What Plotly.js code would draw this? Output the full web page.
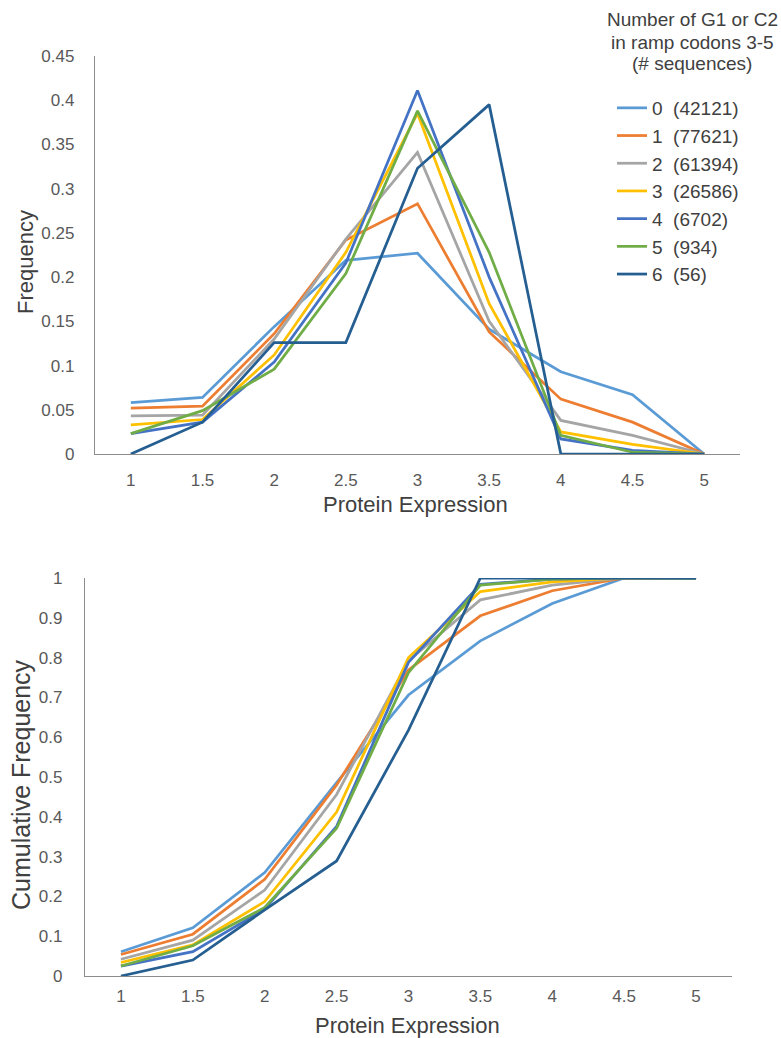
<!DOCTYPE html>
<html>
<head>
<meta charset="utf-8">
<script src="https://cdn.plot.ly/plotly-3.0.1.min.js"></script>
<style>html,body{margin:0;padding:0;background:#fff;}#chart{width:781px;height:1038px;}</style>
</head>
<body>
<div id="chart"></div>
<script>
// Protein expression bins (x values) and tick labels
var expression = [1, 1.5, 2, 2.5, 3, 3.5, 4, 4.5, 5];
var xTickLabels = ['1', '1.5', '2', '2.5', '3', '3.5', '4', '4.5', '5'];

// Series names (number of G1 or C2 in ramp codons 3-5, # sequences)
var seriesNames = ['0  (42121)', '1  (77621)', '2  (61394)', '3  (26586)', '4  (6702)', '5  (934)', '6  (56)'];
var seriesColors = ['#5B9BD5', '#ED7D31', '#A5A5A5', '#FFC000', '#4472C4', '#70AD47', '#255E91'];

// Top panel: frequency
var freq0 = [0.058, 0.064, 0.144, 0.219, 0.227, 0.141, 0.093, 0.067, 0];
var freq1 = [0.052, 0.054, 0.136, 0.242, 0.283, 0.138, 0.062, 0.036, 0];
var freq2 = [0.043, 0.044, 0.130, 0.243, 0.341, 0.150, 0.038, 0.021, 0];
var freq3 = [0.033, 0.039, 0.112, 0.228, 0.385, 0.170, 0.025, 0.011, 0];
var freq4 = [0.023, 0.036, 0.104, 0.216, 0.411, 0.200, 0.017, 0.004, 0];
var freq5 = [0.023, 0.049, 0.096, 0.204, 0.388, 0.228, 0.021, 0.002, 0];
var freq6 = [0, 0.036, 0.126, 0.126, 0.323, 0.395, 0, 0, 0];

// Bottom panel: cumulative frequency
var cum0 = [0.061, 0.121, 0.260, 0.486, 0.706, 0.842, 0.936, 1, 1];
var cum1 = [0.054, 0.105, 0.243, 0.480, 0.769, 0.905, 0.968, 1, 1];
var cum2 = [0.042, 0.090, 0.216, 0.456, 0.792, 0.945, 0.982, 1, 1];
var cum3 = [0.034, 0.078, 0.187, 0.412, 0.800, 0.966, 0.990, 1, 1];
var cum4 = [0.025, 0.061, 0.168, 0.376, 0.788, 0.984, 0.997, 1, 1];
var cum5 = [0.025, 0.076, 0.172, 0.371, 0.762, 0.982, 0.997, 1, 1];
var cum6 = [0, 0.040, 0.166, 0.289, 0.618, 1, 1, 1, 1];

// Y tick labels
var yTopTickVals = [0, 0.05, 0.1, 0.15, 0.2, 0.25, 0.3, 0.35, 0.4, 0.45];
var yTopTickLabels = ['0', '0.05', '0.1', '0.15', '0.2', '0.25', '0.3', '0.35', '0.4', '0.45'];
var yBotTickVals = [0, 0.1, 0.2, 0.3, 0.4, 0.5, 0.6, 0.7, 0.8, 0.9, 1];
var yBotTickLabels = ['0', '0.1', '0.2', '0.3', '0.4', '0.5', '0.6', '0.7', '0.8', '0.9', '1'];

var legendTitleLines = ['Number of G1 or C2', 'in ramp codons 3-5', '(# sequences)'];
var xTitle = 'Protein Expression';
var yTopTitle = 'Frequency';
var yBotTitle = 'Cumulative Frequency';

var freqSeries = [freq0, freq1, freq2, freq3, freq4, freq5, freq6];
var cumSeries = [cum0, cum1, cum2, cum3, cum4, cum5, cum6];

var FONT = 'Liberation Sans, Arial, sans-serif';
var W = 781, H = 1038;
var traces = [];
freqSeries.forEach(function (ys, i) {
  traces.push({
    type: 'scatter', mode: 'lines', x: expression, y: ys,
    name: seriesNames[i], legendgroup: 'g' + i,
    line: {color: seriesColors[i], width: 2.75},
    xaxis: 'x', yaxis: 'y', showlegend: true
  });
});
cumSeries.forEach(function (ys, i) {
  traces.push({
    type: 'scatter', mode: 'lines', x: expression, y: ys,
    name: seriesNames[i], legendgroup: 'g' + i,
    line: {color: seriesColors[i], width: 2.75},
    xaxis: 'x2', yaxis: 'y2', showlegend: false
  });
});

var axisCommon = {
  showgrid: false, zeroline: false, showline: true,
  linecolor: '#8c8c8c', linewidth: 1.25,
  ticks: '', tickfont: {family: FONT, size: 17, color: '#595959'},
  automargin: false
};

function merge(a, b) { var o = {}; for (var k in a) o[k] = a[k]; for (var k2 in b) o[k2] = b[k2]; return o; }

var titleFont = {family: FONT, size: 22, color: '#404040'};
function ann(text, px, py, angle, font) {
  return {
    text: text, xref: 'paper', yref: 'paper', x: px / W, y: 1 - py / H,
    xanchor: 'center', yanchor: 'middle', showarrow: false, textangle: angle || 0,
    font: font
  };
}

var annotations = legendTitleLines.map(function (t, i) {
  return ann(t, 692, [20, 42, 63][i], 0, {family: FONT, size: 19, color: '#404040'});
});
annotations.push(ann(xTitle, 415, 504, 0, titleFont));
annotations.push(ann(xTitle, 407, 1025, 0, titleFont));
annotations.push(ann(yTopTitle, 25, 262, -90, titleFont));
annotations.push(ann(yBotTitle, 21, 785, -90, {family: FONT, size: 25, color: '#404040'}));

var layout = {
  width: W, height: H,
  margin: {l: 0, r: 0, t: 0, b: 0, autoexpand: false},
  paper_bgcolor: '#fff', plot_bgcolor: '#fff',
  font: {family: FONT, color: '#404040'},
  xaxis: merge(axisCommon, {
    domain: [95 / W, 740 / W], range: [0.75, 5.25], anchor: 'y',
    tickvals: expression, ticktext: xTickLabels, ticklabelstandoff: 10
  }),
  yaxis: merge(axisCommon, {
    domain: [1 - 454 / H, 1 - 56 / H], range: [0, 0.45], anchor: 'x',
    tickvals: yTopTickVals, ticktext: yTopTickLabels, ticklabelstandoff: 16
  }),
  xaxis2: merge(axisCommon, {
    domain: [85 / W, 732 / W], range: [0.75, 5.25], anchor: 'y2',
    tickvals: expression, ticktext: xTickLabels, ticklabelstandoff: 4
  }),
  yaxis2: merge(axisCommon, {
    domain: [1 - 976 / H, 1 - 578 / H], range: [0, 1], anchor: 'x2',
    tickvals: yBotTickVals, ticktext: yBotTickLabels, ticklabelstandoff: 18
  }),
  showlegend: true,
  legend: {
    x: 612 / W, y: 1 - 89 / H, xanchor: 'left', yanchor: 'top',
    font: {family: FONT, size: 19, color: '#404040'},
    bgcolor: 'rgba(0,0,0,0)', borderwidth: 0, tracegroupgap: 3.8,
    traceorder: 'normal'
  },
  annotations: annotations
};

Plotly.newPlot('chart', traces, layout, {staticPlot: true, displayModeBar: false});
</script>
</body>
</html>
